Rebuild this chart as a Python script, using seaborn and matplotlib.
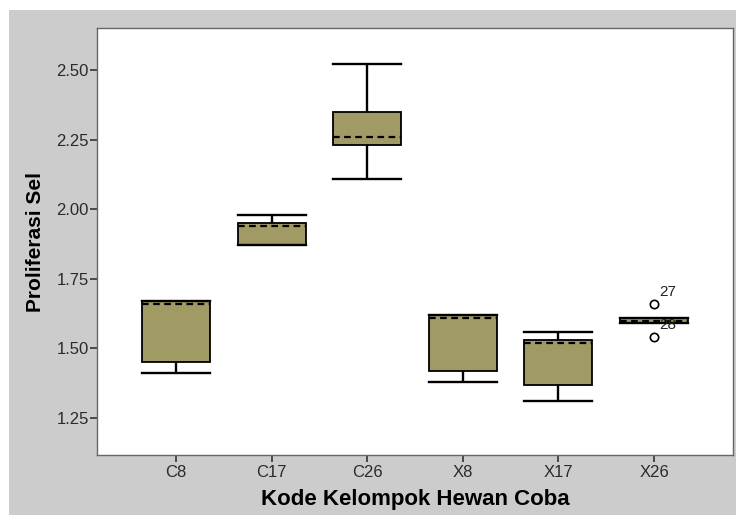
import numpy as np
import pandas as pd
import seaborn as sns
import matplotlib.pyplot as plt
from matplotlib.patches import Rectangle

# data (cases in order, 5 animals per group)
groups = ['C8', 'C17', 'C26', 'X8', 'X17', 'X26']
c8 = [1.41, 1.45, 1.66, 1.67, 1.67]
c17 = [1.87, 1.87, 1.94, 1.95, 1.98]
c26 = [2.11, 2.23, 2.26, 2.35, 2.52]
x8 = [1.38, 1.42, 1.61, 1.62, 1.62]
x17 = [1.31, 1.37, 1.52, 1.53, 1.56]
x26 = [1.60, 1.66, 1.54, 1.59, 1.61]
y_ticks = [1.25, 1.50, 1.75, 2.00, 2.25, 2.50]

values = [c8, c17, c26, x8, x17, x26]
df = pd.DataFrame({
    'kode': np.repeat(groups, [len(v) for v in values]),
    'sel': np.concatenate(values),
})
df['case'] = np.arange(1, len(df) + 1)

plt.rcParams['font.family'] = ['Liberation Sans', 'DejaVu Sans']

fig = plt.figure(figsize=(7.36, 5.15), dpi=100)
fig.patches.append(Rectangle((9 / 736, 0), 1, 505 / 515, transform=fig.transFigure,
                             facecolor='#cccccc', edgecolor='none', zorder=-10))
ax = fig.add_axes([97 / 736, 60 / 515, 636 / 736, 427 / 515])

sns.boxplot(data=df, x='kode', y='sel', order=groups, ax=ax,
            color='#a09a64', saturation=1, width=0.71, capwidths=0.71,
            linecolor='black',
            boxprops=dict(edgecolor='black', linewidth=1.3),
            whiskerprops=dict(color='black', linewidth=1.7),
            capprops=dict(color='black', linewidth=1.7),
            medianprops=dict(color='black', linewidth=1.6, linestyle=(0, (3, 2))),
            flierprops=dict(marker='o', markersize=6, markerfacecolor='white',
                            markeredgecolor='black', markeredgewidth=1.2))

# label outliers with case number
for i, g in enumerate(groups):
    sub = df[df['kode'] == g]
    q1, q3 = np.percentile(sub['sel'], [25, 75])
    iqr = q3 - q1
    out = sub[(sub['sel'] > q3 + 1.5 * iqr) | (sub['sel'] < q1 - 1.5 * iqr)]
    for _, r in out.iterrows():
        ax.annotate(str(r['case']), (i, r['sel']), xytext=(4, 8.5),
                    textcoords='offset points', ha='left', va='center',
                    fontsize=11, color='#222222')

ax.set_xlim(-0.826, 5.826)
ax.set_ylim(1.117, 2.651)
ax.set_yticks(y_ticks)
ax.set_yticklabels(['%.2f' % t for t in y_ticks])
ax.tick_params(axis='both', direction='out', length=5, width=1.2, color='#333333',
               labelsize=12, labelcolor='#2a2a2a', pad=1)
ax.tick_params(axis='x', pad=2)
for s in ax.spines.values():
    s.set_color('#666666')
    s.set_linewidth(1)

ax.set_xlabel('Kode Kelompok Hewan Coba', fontsize=16, fontweight='bold', labelpad=7)
ax.set_ylabel('Proliferasi Sel', fontsize=15, fontweight='bold', labelpad=8)

fig.savefig('out.png', dpi=100)
